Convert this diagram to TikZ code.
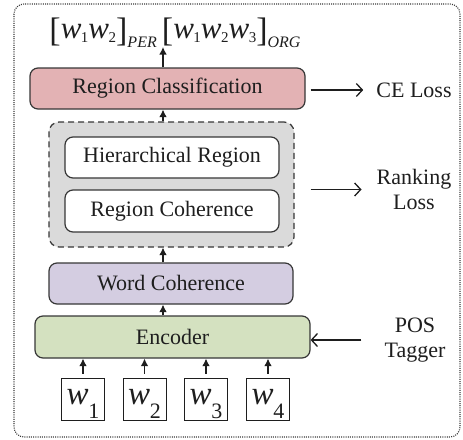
\documentclass[tikz,border=0pt]{standalone}
\usepackage{fontspec}
\setmainfont{Liberation Serif}
\usetikzlibrary{arrows.meta}
\definecolor{rcpink}{RGB}{227,178,180}
\definecolor{grayfill}{RGB}{218,218,218}
\definecolor{wcpurple}{RGB}{212,205,225}
\definecolor{encgreen}{RGB}{212,225,192}
\definecolor{edge}{RGB}{55,55,55}
\definecolor{ink}{RGB}{30,30,30}
\newcommand{\lw}[1]{\textit{w}\kern-0.5pt\raisebox{-4pt}{\fontsize{15}{15}\selectfont #1}}
\newcommand{\lbr}[1]{\raisebox{-3pt}{\fontsize{34}{34}\selectfont #1}}
\newcommand{\lsub}[1]{\raisebox{-9pt}{\fontsize{16}{16}\selectfont\textit{#1}}}
\newcommand{\bw}[1]{\raisebox{-5pt}[15pt][14pt]{\textit{w}\kern-0.5pt\raisebox{-14pt}{\fontsize{22}{22}\selectfont #1}}}
\begin{document}
\begin{tikzpicture}[x=1pt,y=-1pt,
  box/.style={draw=edge, line width=1.2pt, rounded corners=8pt, inner sep=0pt,
    text=ink, font=\fontsize{22}{26}\selectfont},
  wbox/.style={draw=ink, line width=1pt, fill=white, inner sep=0pt,
    minimum width=43pt, minimum height=42pt, text=ink,
    font=\fontsize{33}{33}\selectfont},
  side/.style={text=ink, align=center, font=\fontsize{22}{25.5}\selectfont, inner sep=0pt},
  uparrow/.style={-{Latex[length=7.5pt,width=7.5pt]}, line width=1.1pt, draw=ink},
  sidearrow/.style={-{Straight Barb[length=6pt,width=13pt]}, line width=1.3pt, draw=ink}
]
\useasboundingbox (0,0) rectangle (463,439);
% outer dotted frame
\draw[edge, line width=1.1pt, dash pattern=on 1pt off 1.2pt, rounded corners=10pt]
  (14,4) rectangle (460,437);
% column of the vertical arrows
\coordinate (col) at (163,0);
% top label
\node[text=ink, inner sep=0pt, font=\fontsize{31}{31}\selectfont] (lab) at (175,33)
  {\lbr{[}\lw{1}\lw{2}\lbr{]}\lsub{PER}\,\lbr{[}\lw{1}\lw{2}\lw{3}\lbr{]}\lsub{ORG}};
\coordinate (labbot) at (163,47);
% boxes
\node[box, fill=rcpink, minimum width=275pt, minimum height=41pt] (rc) at (167.5,88.5) {Region Classification};
\node[draw=edge, line width=1.2pt, dash pattern=on 6pt off 4pt, rounded corners=10pt,
  fill=grayfill, minimum width=245pt, minimum height=125pt, inner sep=0pt] (grp) at (171.5,184.5) {};
\node[box, fill=white, minimum width=214pt, minimum height=41pt] (hr) at (172,157.5) {Hierarchical Region};
\node[box, fill=white, minimum width=214pt, minimum height=42pt] (rch) at (172,211) {Region Coherence};
\node[box, fill=wcpurple, minimum width=244pt, minimum height=41pt] (wc) at (171,283.5) {Word Coherence};
\node[box, fill=encgreen, minimum width=275pt, minimum height=42pt] (enc) at (172.5,337) {Encoder};
% word boxes
\node[wbox] (w1) at (83,399) {\bw{1}};
\node[wbox] (w2) at (144.5,399) {\bw{2}};
\node[wbox] (w3) at (206,399) {\bw{3}};
\node[wbox] (w4) at (268,399) {\bw{4}};
% side labels
\node[side] (ce) at (414,90) {CE Loss};
\node[side] (rank) at (414,189.5) {Ranking\\Loss};
\node[side] (pos) at (415,340) {POS\\Tagger};
% vertical arrows
\draw[uparrow] (rc.north -| col) -- (labbot);
\draw[uparrow] (grp.north -| col) -- (rc.south -| col);
\draw[uparrow] (wc.north -| col) -- (grp.south -| col);
\draw[uparrow] (enc.north -| col) -- (wc.south -| col);
\foreach \i in {1,2,3,4}{
  \draw[uparrow, shorten <=4pt] (w\i.north) -- (w\i.north |- enc.south);
}
% side arrows
\draw[sidearrow] ([xshift=5pt]rc.east |- ce.west) -- ([xshift=-13pt]ce.west);
\draw[sidearrow] ([xshift=16pt]grp.east |- rank.west) -- ([xshift=-15pt]rank.west);
\draw[sidearrow] ([xshift=-23pt]pos.west) -- ([yshift=0pt]enc.east |- pos.west);
\end{tikzpicture}
\end{document}
